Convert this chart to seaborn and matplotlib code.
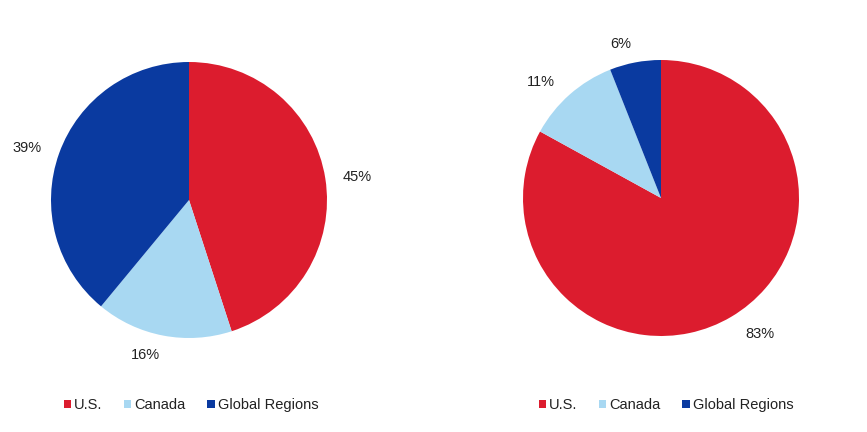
import numpy as np
import matplotlib
matplotlib.use("Agg")
import matplotlib.pyplot as plt
from matplotlib.patches import Patch
import seaborn as sns

categories = ["U.S.", "Canada", "Global Regions"]
left_values = [45, 16, 39]
right_values = [83, 11, 6]
colors = ["#DC1C2E", "#A8D8F2", "#0A3AA0"]

# label placement style: (distance factor, angular nudge in degrees)
left_label_style = [(1.23, -1.2), (1.17, -4.9), (1.23, 1.9)]
right_label_style = [(1.22, 5.4), (1.21, 4.6), (1.15, 3.9)]

sns.set_theme(style="white")
plt.rcParams["font.family"] = ["Liberation Sans", "DejaVu Sans"]

fig = plt.figure(figsize=(8.67, 4.32), dpi=100)
fig.patch.set_facecolor("white")

W, H = 867, 432
def add_pie_axes(cx, cy, r):
    return fig.add_axes([(cx - r) / W, (H - cy - r) / H, 2 * r / W, 2 * r / H])

def draw_pie(ax, values, styles):
    wedges, _ = ax.pie(values, colors=colors, startangle=90, counterclock=False,
                       radius=1, wedgeprops=dict(linewidth=0))
    for w, v, (d, nudge) in zip(wedges, values, styles):
        ang = np.deg2rad((w.theta1 + w.theta2) / 2 + nudge)
        ax.text(d * np.cos(ang), d * np.sin(ang), f"{v}%", ha="center", va="center",
                fontsize=10.5, color="#222222")
    ax.set_xlim(-1, 1)
    ax.set_ylim(-1, 1)
    ax.set_aspect("equal")
    ax.axis("off")

ax1 = add_pie_axes(189, 200, 138)
draw_pie(ax1, left_values, left_label_style)
ax2 = add_pie_axes(661, 198, 138)
draw_pie(ax2, right_values, right_label_style)

handles = [Patch(facecolor=c, edgecolor="none", label=l) for c, l in zip(colors, categories)]
for cx in (191 / W, 666 / W):
    fig.legend(handles=handles, loc="center", bbox_to_anchor=(cx, (H - 405) / H),
               ncol=3, frameon=False, fontsize=10.5, handlelength=0.5, handleheight=0.5,
               handletextpad=0.2, columnspacing=1.5, labelcolor="#222222")

fig.savefig("out.png", dpi=100, facecolor="white")
